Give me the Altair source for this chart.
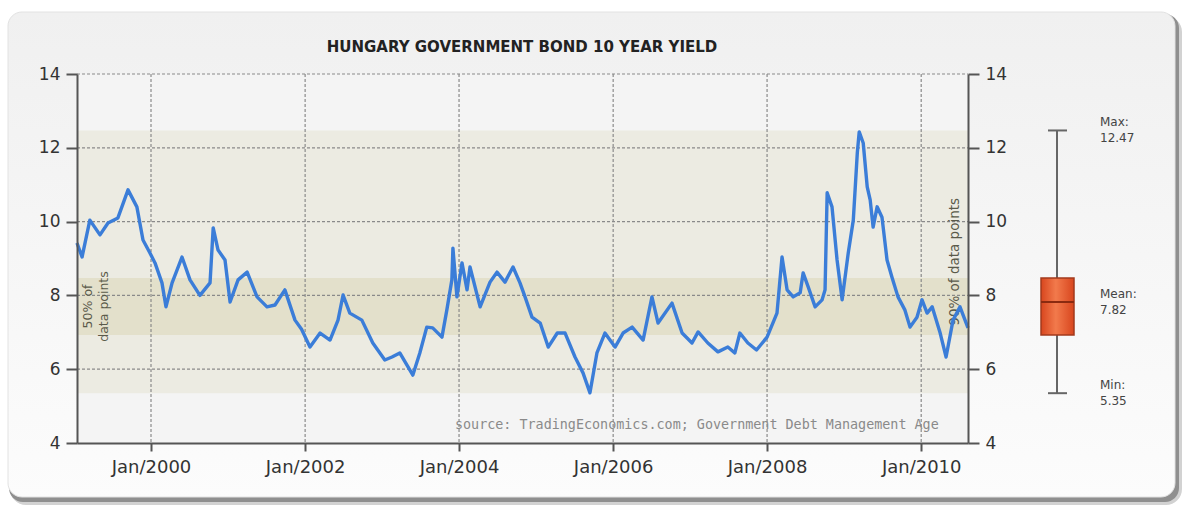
import altair as alt
import pandas as pd

# ---------------- data ----------------
dates = [
    "1999-01-15", "1999-02-08", "1999-03-17", "1999-05-04", "1999-06-11", "1999-07-28",
    "1999-09-14", "1999-10-26", "1999-11-24", "1999-12-27", "2000-01-20", "2000-02-22",
    "2000-03-12", "2000-04-10", "2000-05-27", "2000-07-04", "2000-08-20", "2000-10-07",
    "2000-10-22", "2000-11-14", "2000-12-17", "2001-01-10", "2001-02-17", "2001-04-01",
    "2001-05-18", "2001-07-04", "2001-08-11", "2001-09-27", "2001-11-14", "2001-12-15",
    "2002-01-24", "2002-03-13", "2002-04-29", "2002-06-06", "2002-06-30", "2002-08-01",
    "2002-09-27", "2002-11-18", "2003-01-14", "2003-02-17", "2003-03-26", "2003-05-27",
    "2003-06-29", "2003-08-01", "2003-08-29", "2003-10-12", "2003-11-04", "2003-11-28",
    "2003-12-03", "2003-12-22", "2004-01-15", "2004-02-08", "2004-02-22", "2004-04-10",
    "2004-05-27", "2004-06-29", "2004-08-06", "2004-09-13", "2004-10-16", "2004-11-09",
    "2004-12-12", "2005-01-20", "2005-02-27", "2005-04-11", "2005-05-18", "2005-07-04",
    "2005-08-11", "2005-09-13", "2005-10-16", "2005-11-23", "2006-01-10", "2006-02-17",
    "2006-04-01", "2006-05-23", "2006-07-04", "2006-08-02", "2006-10-07", "2006-11-24",
    "2007-01-10", "2007-02-08", "2007-03-26", "2007-05-13", "2007-06-29", "2007-08-01",
    "2007-08-25", "2007-10-02", "2007-11-12", "2008-01-01", "2008-02-17", "2008-03-12",
    "2008-04-05", "2008-05-04", "2008-06-06", "2008-06-20", "2008-07-14", "2008-08-16",
    "2008-09-18", "2008-10-02", "2008-10-12", "2008-11-04", "2008-11-28", "2008-12-22",
    "2009-01-20", "2009-02-13", "2009-03-04", "2009-03-13", "2009-04-01", "2009-04-20",
    "2009-05-04", "2009-05-18", "2009-06-06", "2009-06-29", "2009-07-23", "2009-08-15",
    "2009-09-13", "2009-10-16", "2009-11-09", "2009-12-12", "2010-01-05", "2010-01-29",
    "2010-02-22", "2010-04-01", "2010-04-29", "2010-06-01", "2010-07-04", "2010-08-11",
]
yields = [
    9.42, 9.04, 10.04, 9.64, 9.96, 10.10,
    10.86, 10.40, 9.50, 9.15, 8.88, 8.34,
    7.69, 8.34, 9.04, 8.42, 8.00, 8.34,
    9.83, 9.23, 8.96, 7.82, 8.42, 8.63,
    7.96, 7.69, 7.74, 8.15, 7.33, 7.08,
    6.60, 6.98, 6.79, 7.33, 8.01, 7.52,
    7.33, 6.71, 6.25, 6.33, 6.44, 5.84,
    6.44, 7.14, 7.12, 6.87, 7.60, 8.42,
    9.28, 7.96, 8.88, 8.15, 8.77, 7.69,
    8.36, 8.63, 8.36, 8.77, 8.34, 7.96,
    7.41, 7.25, 6.60, 6.98, 6.98, 6.33,
    5.90, 5.36, 6.44, 6.98, 6.60, 6.98,
    7.14, 6.79, 7.96, 7.25, 7.79, 6.98,
    6.71, 7.01, 6.71, 6.47, 6.60, 6.44,
    6.98, 6.71, 6.52, 6.87, 7.52, 9.04,
    8.15, 7.96, 8.07, 8.61, 8.23, 7.69,
    7.88, 8.15, 10.78, 10.40, 8.96, 7.88,
    9.15, 10.04, 11.86, 12.43, 12.13, 10.94,
    10.59, 9.85, 10.40, 10.12, 8.96, 8.50,
    7.96, 7.60, 7.14, 7.41, 7.88, 7.52,
    7.69, 6.98, 6.33, 7.33, 7.69, 7.12,
]

stat_names = ["Max:", "Mean:", "Min:"]
stat_values = [12.47, 7.82, 5.35]
quartiles = [6.93, 8.47]          # 50% band / box edges
y_ticks = [4, 6, 8, 10, 12, 14]
x_ticks = ["2000-01-01", "2002-01-01", "2004-01-01", "2006-01-01", "2008-01-01", "2010-01-01"]

title_text = "HUNGARY GOVERNMENT BOND 10 YEAR YIELD"
source_text = "source: TradingEconomics.com; Government Debt Management Age"
band_inner_lines = ["50% of", "data points"]
band_outer_text = "90% of data points"

# ---------------- layout ----------------
W, H = 891, 369
FONT = "DejaVu Sans"
one = pd.DataFrame({"k": [0]})

yscale = alt.Scale(domain=[4, 14], nice=False, zero=False)
xscale = alt.Scale(domain=[alt.DateTime(year=1999, month=1, date=15, utc=True),
                           alt.DateTime(year=2010, month=8, date=11, utc=True)])


def fixed_rect(x, x2, y, y2, **kw):
    return alt.Chart(one).mark_rect(**kw).encode(
        x=alt.value(x), x2=alt.value(x2), y=alt.value(y), y2=alt.value(y2))


shadow1 = fixed_rect(-67, 1105, -58, 431, cornerRadius=16, fill="#d2d2d2")
shadow2 = fixed_rect(-68, 1102, -60, 428, cornerRadius=14, fill="#8f8f8f")
card = fixed_rect(-69, 1098, -62, 423, cornerRadius=14,
                  fill=alt.LinearGradient(gradient="linear", x1=0, y1=0, x2=0, y2=1,
                                          stops=[alt.GradientStop(offset=0, color="#f0f0f0"),
                                                 alt.GradientStop(offset=1, color="#fcfcfc")]),
                  stroke="#e2e2e2", strokeWidth=1)
plot_bg = fixed_rect(0, W, 0, H, fill="#f4f4f4")

band_df = pd.DataFrame({"lo": [stat_values[2], quartiles[0]],
                        "hi": [stat_values[0], quartiles[1]],
                        "c": ["#ecebe2", "#e3e0cb"]})
bands = alt.Chart(band_df).mark_rect().encode(
    x=alt.value(0), x2=alt.value(W),
    y=alt.Y("lo:Q", scale=yscale, axis=None), y2="hi:Q",
    fill=alt.Fill("c:N", scale=None))

axis_common = dict(grid=False, title=None, domainColor="#555", domainWidth=2,
                   tickColor="#555", tickWidth=2, tickSize=11, labelPadding=6,
                   labelFont=FONT, labelFontSize=17, labelColor="#333",
                   values=y_ticks, labelOverlap=False, zindex=1)

grid_y = alt.Chart(pd.DataFrame({"v": y_ticks[1:]})).mark_rule(
    color="#8a8a8a", strokeDash=[3, 2], strokeWidth=1.2).encode(
    x=alt.value(0), x2=alt.value(W),
    y=alt.Y("v:Q", scale=yscale, axis=alt.Axis(orient="left", **axis_common)))

grid_x = alt.Chart(pd.DataFrame({"d": x_ticks})).mark_rule(
    color="#8a8a8a", strokeDash=[3, 2], strokeWidth=1.2).encode(
    x=alt.X("d:T", scale=xscale, axis=None),
    y=alt.value(0), y2=alt.value(H))

line_df = pd.DataFrame({"date": dates, "yield": yields})
line = alt.Chart(line_df).mark_line(color="#3b7dd8", strokeWidth=3.4, strokeJoin="round").encode(
    x=alt.X("date:T", scale=xscale,
            axis=alt.Axis(orient="bottom", title=None, grid=False, zindex=1,
                          values=[alt.DateTime(year=int(t[:4]), month=1, date=1, utc=True) for t in x_ticks],
                          labelExpr="utcFormat(datum.value, '%b/%Y')",
                          domainColor="#555", domainWidth=2, tickColor="#555", tickWidth=2,
                          tickSize=8, labelPadding=7, labelFont=FONT, labelFontSize=18,
                          labelColor="#333", labelOverlap=False)),
    y=alt.Y("yield:Q", scale=yscale, axis=alt.Axis(orient="right", **axis_common)))

# band labels
inner_df = pd.DataFrame({"t": band_inner_lines, "mid": [sum(quartiles) / 2] * 2, "xp": [11, 27]})
inner_txt = alt.Chart(inner_df).mark_text(angle=270, font=FONT, fontSize=12.5, color="#5a5a4a",
                                          align="center", baseline="middle").encode(
    x=alt.X("xp:Q", scale=None), y=alt.Y("mid:Q", scale=yscale, axis=None), text="t:N")
outer_df = pd.DataFrame({"t": [band_outer_text], "mid": [(stat_values[0] + stat_values[2]) / 2]})
outer_txt = alt.Chart(outer_df).mark_text(angle=270, font=FONT, fontSize=13.5, color="#5a5a4a",
                                          align="center", baseline="middle").encode(
    x=alt.value(878), y=alt.Y("mid:Q", scale=yscale, axis=None), text="t:N")

source = alt.Chart(pd.DataFrame({"t": [source_text]})).mark_text(
    font="DejaVu Sans Mono", fontSize=13.4, color="#8a8a8a", align="left", baseline="middle").encode(
    x=alt.value(378), y=alt.value(351), text="t:N")

title = alt.Chart(pd.DataFrame({"t": [title_text]})).mark_text(
    font=FONT, fontSize=15, fontWeight="bold", color="#222", align="center", baseline="middle").encode(
    x=alt.value(445), y=alt.value(-27), text="t:N")

# box plot on the right
stats_df = pd.DataFrame({"name": stat_names, "v": stat_values})
whisker = alt.Chart(pd.DataFrame({"lo": [stat_values[2]], "hi": [stat_values[0]]})).mark_rule(
    color="#666", strokeWidth=2).encode(
    x=alt.value(980), y=alt.Y("lo:Q", scale=yscale, axis=None), y2="hi:Q")
caps = alt.Chart(pd.DataFrame({"v": [stat_values[0], stat_values[2]]})).mark_rule(
    color="#666", strokeWidth=2).encode(
    x=alt.value(971), x2=alt.value(990), y=alt.Y("v:Q", scale=yscale, axis=None))
box = alt.Chart(pd.DataFrame({"lo": [quartiles[0]], "hi": [quartiles[1]]})).mark_rect(
    fill=alt.LinearGradient(gradient="linear", x1=0, y1=0, x2=1, y2=0,
                            stops=[alt.GradientStop(offset=0, color="#d8461e"),
                                   alt.GradientStop(offset=0.45, color="#f27a4c"),
                                   alt.GradientStop(offset=1, color="#d8461e")]),
    stroke="#a33a1c", strokeWidth=1.5).encode(
    x=alt.value(964), x2=alt.value(997), y=alt.Y("lo:Q", scale=yscale, axis=None), y2="hi:Q")
median = alt.Chart(pd.DataFrame({"v": [stat_values[1]]})).mark_rule(
    color="#8a2a10", strokeWidth=2).encode(
    x=alt.value(964), x2=alt.value(997), y=alt.Y("v:Q", scale=yscale, axis=None))
stat_name_txt = alt.Chart(stats_df).mark_text(
    font=FONT, fontSize=12, color="#444", align="left", baseline="middle", dy=-8).encode(
    x=alt.value(1023), y=alt.Y("v:Q", scale=yscale, axis=None), text="name:N")
stat_val_txt = alt.Chart(stats_df).mark_text(
    font=FONT, fontSize=12, color="#444", align="left", baseline="middle", dy=8).encode(
    x=alt.value(1023), y=alt.Y("v:Q", scale=yscale, axis=None),
    text=alt.Text("v:Q", format=".2f"))

chart = alt.layer(
    shadow1, shadow2, card, plot_bg, bands, grid_y, grid_x, inner_txt, outer_txt, source,
    line, title, whisker, caps, box, median, stat_name_txt, stat_val_txt,
).resolve_axis(x="independent", y="independent").properties(
    width=W, height=H,
    autosize=alt.AutoSizeParams(type="none"),
    padding={"left": 77, "top": 74, "right": 218, "bottom": 65},
    background="white",
).configure_view(strokeWidth=0)

chart.save("out.html", embed_options={"renderer": "svg", "actions": False})
